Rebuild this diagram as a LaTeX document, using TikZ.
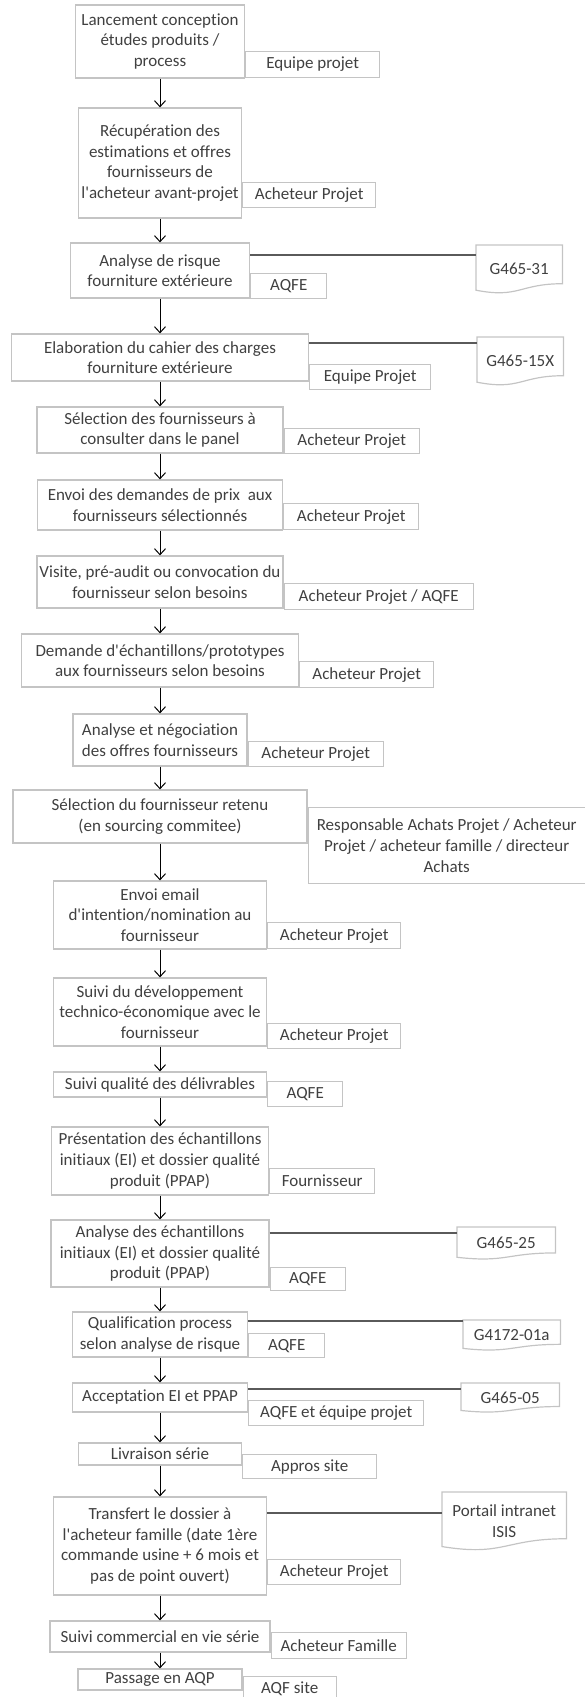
\documentclass[tikz,border=0pt]{standalone}
\usepackage{fontspec}
\setmainfont{Carlito}[Ligatures={TeX,NoCommon}]
\usetikzlibrary{arrows.meta,calc}

\definecolor{texte}{HTML}{404040}
\definecolor{bord}{HTML}{C4C4C4}
\definecolor{trait}{HTML}{5A5A5A}

\tikzset{
    etape/.style 2 args={draw=bord, line width=1.2pt, align=center, inner sep=0pt,
        minimum width=#1, minimum height=#2},
    acteur/.style 2 args={draw=bord, line width=1.2pt, align=center, inner sep=0pt,
        minimum width=#1, minimum height=#2, anchor=north west},
    docu/.style 2 args={align=center, inner sep=0pt, minimum width=#1,
        minimum height=#2, anchor=north west},
    fleche/.style={draw=black, line width=1pt, -{Straight Barb[length=6pt,width=11pt]}},
    lien/.style={draw=trait, line width=1.5pt},
}

\begin{document}
\begin{tikzpicture}[x=1pt, y=-1pt,
    every node/.style={font=\fontsize{17}{20.6}\selectfont, text=texte}]
    \useasboundingbox (0,0) rectangle (585,1697);

    % etapes du processus
    \node[etape={169pt}{73pt}] (e1) at (160,41.5) {Lancement conception\\études produits /\\process};
    \node[etape={163pt}{110pt}] (e2) at (160,163) {Récupération des\\estimations et offres\\fournisseurs de\\l\textquotesingle acheteur avant-projet};
    \node[etape={179pt}{55pt}] (e3) at (160,270.5) {Analyse de risque\\fourniture extérieure};
    \node[etape={297pt}{47pt}] (e4) at (160,357.5) {Elaboration du cahier des charges\\fourniture extérieure};
    \node[etape={246pt}{46pt}] (e5) at (160,430) {Sélection des fournisseurs à\\consulter dans le panel};
    \node[etape={245pt}{50pt}] (e6) at (160,505) {Envoi des demandes de prix\ \ aux\\fournisseurs sélectionnés};
    \node[etape={246pt}{52pt}] (e7) at (160,582) {Visite, pré-audit ou convocation du\\fournisseur selon besoins};
    \node[etape={277pt}{53pt}] (e8) at (160,660.5) {Demande d\textquotesingle échantillons/prototypes\\aux fournisseurs selon besoins};
    \node[etape={174pt}{52pt}] (e9) at (160,740) {Analyse et négociation\\des offres fournisseurs};
    \node[etape={294pt}{53pt}] (e10) at (160,816.5) {Sélection du fournisseur retenu\\(en sourcing commitee)};
    \node[etape={213pt}{68pt}] (e11) at (160,915) {Envoi email\\d\textquotesingle intention/nomination au\\fournisseur};
    \node[etape={213pt}{68pt}] (e12) at (160,1012) {Suivi du développement\\technico-économique avec le\\fournisseur};
    \node[etape={213pt}{25pt}] (e13) at (160,1084.5) {Suivi qualité des délivrables};
    \node[etape={217pt}{68pt}] (e14) at (160,1161) {Présentation des échantillons\\initiaux (EI) et dossier qualité\\produit (PPAP)};
    \node[etape={218pt}{67pt}] (e15) at (160,1253.5) {Analyse des échantillons\\initiaux (EI) et dossier qualité\\produit (PPAP)};
    \node[etape={175pt}{45pt}] (e16) at (160,1334.5) {Qualification process\\selon analyse de risque};
    \node[etape={175pt}{29pt}] (e17) at (160,1397.5) {Acceptation EI et PPAP};
    \node[etape={163pt}{22pt}] (e18) at (160,1454) {Livraison série};
    \node[etape={213pt}{98pt}] (e19) at (160,1546) {Transfert le dossier à\\l\textquotesingle acheteur famille (date 1ère\\commande usine + 6 mois et\\pas de point ouvert)};
    \node[etape={220pt}{31pt}] (e20) at (160,1636.5) {Suivi commercial en vie série};
    \node[etape={164pt}{21pt}] (e21) at (160,1679.5) {Passage en AQP};

    % acteurs
    \node[acteur={134pt}{26pt}] (a1) at (e1.east |- 0,51) {Equipe projet};
    \node[acteur={133pt}{25pt}] (a2) at (e2.east |- 0,182) {Acheteur Projet};
    \node[acteur={76pt}{25pt}] (a3) at (e3.east |- 0,273) {AQFE};
    \node[acteur={121pt}{25pt}] (a4) at (e4.east |- 0,364) {Equipe Projet};
    \node[acteur={135pt}{25pt}] (a5) at (e5.east |- 0,428) {Acheteur Projet};
    \node[acteur={135pt}{26pt}] (a6) at (e6.east |- 0,503) {Acheteur Projet};
    \node[acteur={189pt}{26pt}] (a7) at (e7.east |- 0,583) {Acheteur Projet / AQFE};
    \node[acteur={134pt}{26pt}] (a8) at (e8.east |- 0,661) {Acheteur Projet};
    \node[acteur={135pt}{25pt}] (a9) at (e9.east |- 0,741) {Acheteur Projet};
    \node[acteur={277pt}{76pt}] (a10) at (e10.east |- 0,807) {Responsable Achats Projet / Acheteur\\Projet / acheteur famille / directeur\\Achats};
    \node[acteur={133pt}{26pt}] (a11) at (e11.east |- 0,922) {Acheteur Projet};
    \node[acteur={133pt}{25pt}] (a12) at (e12.east |- 0,1023) {Acheteur Projet};
    \node[acteur={75pt}{25pt}] (a13) at (e13.east |- 0,1081) {AQFE};
    \node[acteur={105pt}{25pt}] (a14) at (e14.east |- 0,1168) {Fournisseur};
    \node[acteur={75pt}{23pt}] (a15) at (e15.east |- 0,1267) {AQFE};
    \node[acteur={76pt}{24pt}] (a16) at (e16.east |- 0,1333) {AQFE};
    \node[acteur={175pt}{25pt}] (a17) at (e17.east |- 0,1400) {AQFE et équipe projet};
    \node[acteur={134pt}{24pt}] (a18) at (e18.east |- 0,1454) {Appros site};
    \node[acteur={133pt}{25pt}] (a19) at (e19.east |- 0,1559) {Acheteur Projet};
    \node[acteur={135pt}{26pt}] (a20) at (e20.east |- 0,1632) {Acheteur Famille};
    \node[acteur={93pt}{25pt}] (a21) at (e21.east |- 0,1676) {AQF site};

    % documents de reference
    \node[docu={86pt}{48pt}] (d1) at (476,245) {G465-31};
    \node[docu={86pt}{48pt}] (d2) at (477,337) {G465-15X};
    \node[docu={98pt}{32pt}] (d3) at (457,1227) {G465-25};
    \node[docu={97pt}{30pt}] (d4) at (463,1320) {G4172-01a};
    \node[docu={98pt}{29pt}] (d5) at (461,1383) {G465-05};
    \node[docu={124pt}{58pt}] (d6) at (442,1492) {Portail intranet\\ISIS};
    \foreach \d in {d1,d2,d3,d4,d5,d6}
        \draw[draw=bord, line width=1.2pt] (\d.north west) -- (\d.north east)
            -- ($(\d.north east)!0.8!(\d.south east)$)
            .. controls ($(\d.north)!0.8!(\d.south)$) and ($(\d.north)!1.107!(\d.south)$)
            .. ($(\d.north west)!0.934!(\d.south west)$) -- cycle;

    % fleches
    \foreach \a/\b in {e1/e2,e2/e3,e3/e4,e4/e5,e5/e6,e6/e7,e7/e8,e8/e9,e9/e10,e10/e11,
        e11/e12,e12/e13,e13/e14,e14/e15,e15/e16,e16/e17,e17/e18,e18/e19,e19/e20,e20/e21}
        \draw[fleche] (\a) -- (\b);

    % liens vers les documents
    \draw[lien] (e3.east |- 0,255) -- (d1.west |- 0,255);
    \draw[lien] (e4.east |- 0,343) -- (d2.west |- 0,343);
    \draw[lien] (e15.east |- 0,1233) -- (d3.west |- 0,1233);
    \draw[lien] (e16.east |- 0,1321) -- (d4.west |- 0,1321);
    \draw[lien] (e17.east |- 0,1389) -- (d5.west |- 0,1389);
    \draw[lien] (e19.east |- 0,1513) -- (d6.west |- 0,1513);
\end{tikzpicture}
\end{document}
